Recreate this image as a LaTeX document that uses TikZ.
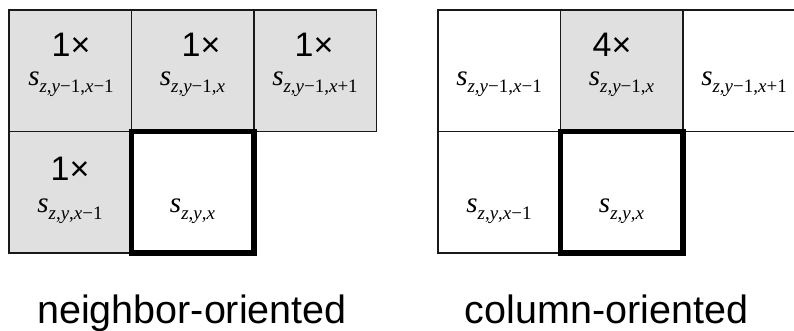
\documentclass[tikz,border=0pt]{standalone}
\usepackage{fontspec}
\setmainfont{Liberation Sans}
\newfontfamily\tms{Liberation Serif}
\definecolor{cellgray}{HTML}{E0E0E0}
\newcommand{\svar}[1]{{\tms\fontsize{29}{29}\selectfont\itshape s}\raisebox{-7pt}{\tms\fontsize{19}{19}\selectfont #1}}
\newcommand{\iv}[1]{\textit{#1}}
\begin{document}
\begin{tikzpicture}[x=1pt,y=-1pt,
  cell/.style={draw=black!90, line width=1.3pt, minimum width=122.5pt, minimum height=121.5pt, inner sep=0pt, outer sep=0pt, anchor=north west},
  graycell/.style={cell, fill=cellgray},
  thickcell/.style={cell, line width=5.5pt, draw=black},
  mult/.style={anchor=base, inner sep=0pt, font=\fontsize{34}{34}\selectfont},
  var/.style={anchor=base, inner sep=0pt},
  caption/.style={anchor=base, inner sep=0pt, font=\fontsize{39.5}{39.5}\selectfont}]
\clip (0,0) rectangle (794,331);
\fill[white] (0,0) rectangle (794,331);
% left grid
\node[graycell] (l11) at (9,10) {};
\node[graycell] (l12) at (131.5,10) {};
\node[graycell] (l13) at (254,10) {};
\node[graycell] (l21) at (9,131.5) {};
\node[thickcell] (l22) at (131.5,131.5) {};
% right grid
\node[cell] (r11) at (438,10) {};
\node[graycell] (r12) at (560.5,10) {};
\node[cell] (r13) at (683,10) {};
\node[cell] (r21) at (438,131.5) {};
\node[thickcell] (r22) at (560.5,131.5) {};
% left texts
\node[mult] (m11) at (71,57) {1×};
\node[var] (v11) at (71,86) {\svar{\iv{z},\iv{y}−1,\iv{x}−1}};
\node[mult] (m12) at (201,57) {1×};
\node[var] (v12) at (192.5,86) {\svar{\iv{z},\iv{y}−1,\iv{x}}};
\node[mult] (m13) at (314,57) {1×};
\node[var] (v13) at (315,86) {\svar{\iv{z},\iv{y}−1,\iv{x}+1}};
\node[mult] (m21) at (70,180) {1×};
\node[var] (v21) at (70,212) {\svar{\iv{z},\iv{y},\iv{x}−1}};
\node[var] (v22) at (192.5,212) {\svar{\iv{z},\iv{y},\iv{x}}};
% right texts
\node[var] (w11) at (499,86) {\svar{\iv{z},\iv{y}−1,\iv{x}−1}};
\node[mult] (n12) at (612,57) {4×};
\node[var] (w12) at (621.5,86) {\svar{\iv{z},\iv{y}−1,\iv{x}}};
\node[var] (w13) at (744,86) {\svar{\iv{z},\iv{y}−1,\iv{x}+1}};
\node[var] (w21) at (499,212) {\svar{\iv{z},\iv{y},\iv{x}−1}};
\node[var] (w22) at (621.5,212) {\svar{\iv{z},\iv{y},\iv{x}}};
% captions
\node[caption] (c1) at (192,323) {neighbor-oriented};
\node[caption] (c2) at (606.5,323) {column-oriented};
\end{tikzpicture}
\end{document}
